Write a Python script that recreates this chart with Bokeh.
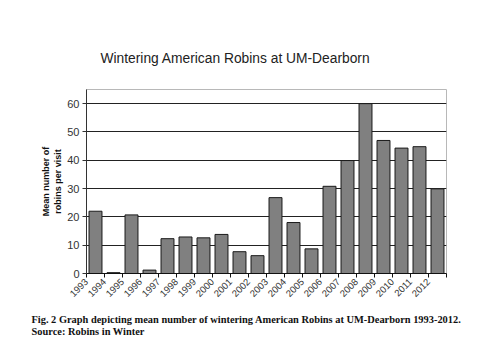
from math import pi
from bokeh.plotting import figure
from bokeh.models import Range1d, FixedTicker, Title
from bokeh.embed import file_html
from bokeh.resources import INLINE

years = [str(y) for y in range(1993, 2013)]
robins = [22.0, 0.3, 20.7, 1.2, 12.3, 12.9, 12.6, 13.8, 7.7, 6.3,
          26.8, 18.0, 8.7, 30.8, 39.9, 60.0, 47.0, 44.3, 44.8, 29.9]
y_ticks = [0, 10, 20, 30, 40, 50, 60]

FONT = "Liberation Sans"
SERIF = "Liberation Serif"

p = figure(width=500, height=354, output_backend="svg", toolbar_location=None,
           x_range=Range1d(0, len(years)), y_range=Range1d(0, 65),
           min_border_left=86, min_border_right=54, min_border_top=89, min_border_bottom=81)
p.background_fill_color = "white"
p.border_fill_color = "white"
p.outline_line_color = "#b8b8b8"
p.outline_line_width = 1

xs = [i + 0.5 for i in range(len(years))]
p.vbar(x=xs, top=robins, width=0.72, bottom=0,
       fill_color="#808080", line_color="#1a1a1a", line_width=1)

# title
p.title.text = "Wintering American Robins at UM-Dearborn"
p.title.align = "left"
p.title.offset = 14
p.title.text_font = FONT
p.title.text_font_size = "13.8px"
p.title.text_font_style = "normal"
p.title.text_color = "#222222"
p.title.standoff = 48

# axes
p.xgrid.visible = False
p.ygrid.grid_line_color = "#222222"
p.ygrid.grid_line_width = 1
p.ygrid.ticker = FixedTicker(ticks=y_ticks)

p.yaxis.ticker = FixedTicker(ticks=y_ticks)
p.yaxis.axis_line_color = "#333333"
p.yaxis.major_tick_line_color = "#333333"
p.yaxis.major_tick_out = 4
p.yaxis.major_tick_in = 0
p.yaxis.minor_tick_line_color = None
p.yaxis.major_label_text_font = FONT
p.yaxis.major_label_text_font_size = "11px"
p.yaxis.major_label_text_color = "#333333"
p.yaxis.major_label_standoff = 3
p.yaxis.axis_label = "Mean number of\nrobins per visit"
p.yaxis.axis_label_text_font = FONT
p.yaxis.axis_label_text_font_size = "9px"
p.yaxis.axis_label_text_font_style = "bold"
p.yaxis.axis_label_text_color = "#111111"
p.yaxis.axis_label_standoff = 1

p.xaxis.ticker = FixedTicker(ticks=list(range(len(years) + 1)))
overrides = {i: years[i] for i in range(len(years))}
overrides[len(years)] = ""
p.xaxis.major_label_overrides = overrides
p.xaxis.major_label_orientation = pi / 4
p.xaxis.axis_line_color = "#111111"
p.xaxis.major_tick_line_color = "#111111"
p.xaxis.major_tick_out = 4
p.xaxis.major_tick_in = 0
p.xaxis.minor_tick_line_color = None
p.xaxis.major_label_text_font = FONT
p.xaxis.major_label_text_font_size = "9.5px"
p.xaxis.major_label_text_color = "#333333"
p.xaxis.major_label_standoff = 3

caption = Title(text="Fig. 2 Graph depicting mean number of wintering American Robins at UM-Dearborn 1993-2012.\n"
                     "Source: Robins in Winter",
                align="left", offset=-55, text_font=SERIF, text_font_size="10.4px",
                text_font_style="bold", text_color="#111111", text_line_height=1.1, standoff=19)
p.add_layout(caption, "below")

open("out.html", "w").write(file_html(p, INLINE))
